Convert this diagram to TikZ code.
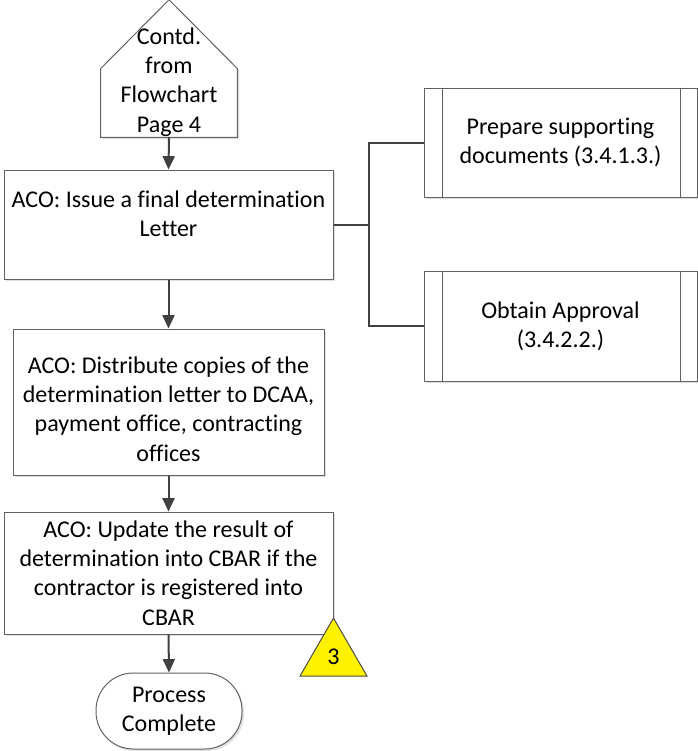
\documentclass[tikz,border=0pt]{standalone}
\usepackage{fontspec}
\setmainfont[Ligatures=NoCommon]{Carlito}
\usepackage{tikz}
\usetikzlibrary{arrows.meta,shapes.geometric,shadows}

\begin{document}
\begin{tikzpicture}[x=0.75pt,y=-0.75pt,
	  font=\fontsize{18}{22}\selectfont,
	  shade/.style={drop shadow={shadow xshift=1.5pt,shadow yshift=-1.5pt,fill=black!12,opacity=1}},
	  box/.style={draw=black!62,line width=0.75pt,fill=white,shade,align=center,inner sep=0pt},
	  flow/.style={draw=black!75,line width=1.5pt,-{Triangle[width=9pt,length=10pt]}},
	  link/.style={draw=black!75,line width=1.5pt}]
	  \useasboundingbox (0,0) rectangle (698,751);
	  % off page connector
	  \node[minimum width=102pt,minimum height=102.75pt,inner sep=0pt] (offpg) at (169,68.5) {};
	  \draw[box](offpg.south west) -- (offpg.west) -- (offpg.north) -- (offpg.east) -- (offpg.south east) -- cycle;
	  \node[align=center] (offtxt) at (169,82) {Contd.\\from\\Flowchart\\Page 4};
	  % ACO boxes
	  \node[box,minimum width=246.75pt,minimum height=81.75pt] (issue) at (168.5,224.5) {};
	  \node[align=center] (issuetxt) at (168.5,214) {ACO: Issue a final determination\\Letter};
	  \node[box,minimum width=233.25pt,minimum height=109.5pt] (dist) at (168.5,402) {};
	  \node[align=center] (disttxt) at (168.5,409) {ACO: Distribute copies of the\\determination letter to DCAA,\\payment office, contracting\\offices};
	  \node[box,minimum width=246.75pt,minimum height=91.5pt] (update) at (168.5,573) {ACO: Update the result of\\determination into CBAR if the\\contractor is registered into\\CBAR};
	  % end
	  \node[box,rounded corners=28pt,minimum width=109.5pt,minimum height=57pt] (done) at (169,711) {Process\\Complete};
	  % marker 3
	  \node[regular polygon,regular polygon sides=3,draw=black!70,line width=0.75pt,fill=yellow,inner sep=0pt,minimum size=58pt] (mark) at (333.5,656.7) {3};
	  % subprocess blocks
	  \node[box,minimum width=204.75pt,minimum height=81.75pt] (prep) at (560.5,142.5) {Prepare supporting\\documents (3.4.1.3.)};
	  \draw[box,shade/.style={}]([xshift=14.25pt]prep.north west) -- ([xshift=14.25pt]prep.south west);
	  \draw[box,shade/.style={}]([xshift=-12.75pt]prep.north east) -- ([xshift=-12.75pt]prep.south east);
	  \node[box,minimum width=204.75pt,minimum height=82.5pt] (appr) at (560.5,326) {Obtain Approval\\(3.4.2.2.)};
	  \draw[box,shade/.style={}]([xshift=14.25pt]appr.north west) -- ([xshift=14.25pt]appr.south west);
	  \draw[box,shade/.style={}]([xshift=-12.75pt]appr.north east) -- ([xshift=-12.75pt]appr.south east);
	  % arrows down the left side
	  \draw[flow](offpg.south) -- (issue.north);
	  \draw[flow](issue.south) -- (dist.north);
	  \draw[flow](dist.south) -- (update.north);
	  \draw[flow](update.south) -- (done.north);
	  % bracket to the subprocesses
	  \coordinate (fork) at (369,224.5);
	  \draw[link](issue.east) -- (fork);
	  \draw[link](prep.west) -| (fork) |- (appr.west);
\end{tikzpicture}
\end{document}
